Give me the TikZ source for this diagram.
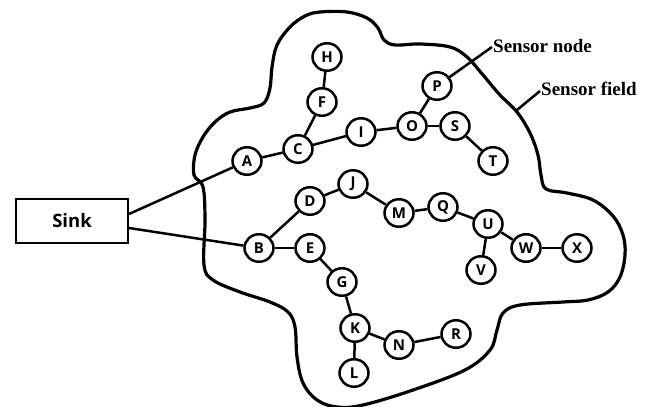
\documentclass[tikz,border=0pt]{standalone}
\usepackage{fontspec}
\setmainfont{Open Sans}
\newfontfamily\labelfont{Liberation Serif}
\usetikzlibrary{shapes.geometric}
\begin{document}
\begin{tikzpicture}[x=1pt,y=-1pt,
  sn/.style={draw,ellipse,line width=2.5pt,minimum width=29pt,minimum height=27.5pt,inner sep=0pt,font=\fontsize{15}{15}\selectfont\bfseries},
  ed/.style={line width=2.5pt},
  field/.style={line width=3.2pt},
  lab/.style={font=\fontsize{19}{19}\selectfont\labelfont\bfseries,anchor=base west,inner sep=0pt}]
\useasboundingbox (0,0) rectangle (646,407);
% sensor field
\draw[field] plot[smooth cycle,tension=0.6] coordinates {
(320,12)(347,12)(367,18)(378,28)(384,40)(395,45)(420,44)(450,47)(467,57)(483,75)(500,95)(517,112)(530,133)(538,155)(541,175)(546,189)(567,193)(593,200)(613,216)(623,235)(625,255)(620,277)(608,292)(588,300)(563,302)(520,305)(503,313)(497,330)(490,350)(465,370)(413,390)(363,405)(337,407)(317,400)(303,383)(297,357)(295,327)(288,312)(270,302)(240,292)(213,280)(204,265)(205,220)(203,187)(194,175)(195,155)(203,137)(215,122)(230,112)(250,108)(264,103)(270,88)(272,67)(277,45)(290,27)(305,16)};
% sink
\node[draw,line width=2.2pt,minimum width=112pt,minimum height=44pt,inner sep=0pt,font=\fontsize{18.5}{18.5}\selectfont\bfseries] (sink) at (72,221) {Sink};
% nodes
\node[sn] (H) at (327,57) {H};
\node[sn] (F) at (322,102) {F};
\node[sn] (C) at (298,149) {C};
\node[sn] (A) at (247,161) {A};
\node[sn] (I) at (361,132) {I};
\node[sn] (O) at (412,126) {O};
\node[sn] (P) at (437,86) {P};
\node[sn] (S) at (455,126) {S};
\node[sn] (T) at (493,161) {T};
\node[sn] (D) at (310,201) {D};
\node[sn] (J) at (353,184) {J};
\node[sn] (M) at (399,213) {M};
\node[sn] (Q) at (443,207) {Q};
\node[sn] (U) at (488,224) {U};
\node[sn] (W) at (526,248) {W};
\node[sn] (X) at (577,248) {X};
\node[sn] (V) at (481,270) {V};
\node[sn] (B) at (259,248) {B};
\node[sn] (E) at (310,248) {E};
\node[sn] (G) at (342,282) {G};
\node[sn] (K) at (355,328) {K};
\node[sn] (N) at (399,345) {N};
\node[sn] (R) at (456,334) {R};
\node[sn] (L) at (354,373) {L};
% edges
\draw[ed] (H) -- (F);
\draw[ed] (F) -- (C);
\draw[ed] (A) -- (C);
\draw[ed] (C) -- (I);
\draw[ed] (I) -- (O);
\draw[ed] (O) -- (P);
\draw[ed] (O) -- (S);
\draw[ed] (S) -- (T);
\draw[ed] (B) -- (D);
\draw[ed] (D) -- (J);
\draw[ed] (J) -- (M);
\draw[ed] (M) -- (Q);
\draw[ed] (Q) -- (U);
\draw[ed] (U) -- (W);
\draw[ed] (W) -- (X);
\draw[ed] (U) -- (V);
\draw[ed] (B) -- (E);
\draw[ed] (E) -- (G);
\draw[ed] (G) -- (K);
\draw[ed] (K) -- (N);
\draw[ed] (N) -- (R);
\draw[ed] (K) -- (L);
% sink links
\coordinate (s1) at (129,214);
\coordinate (s2) at (129,228);
\draw[ed] (s1) -- (A);
\draw[ed] (s2) -- (B);
% labels
\coordinate (pn) at (492,47);
\coordinate (fe1) at (517,110);
\coordinate (fe2) at (540,91);
\draw[ed] (P) -- (pn);
\draw[ed] (fe1) -- (fe2);
\node[lab] (ln) at (493,52) {Sensor node};
\node[lab] (lf) at (541,95) {Sensor field};
\end{tikzpicture}
\end{document}
